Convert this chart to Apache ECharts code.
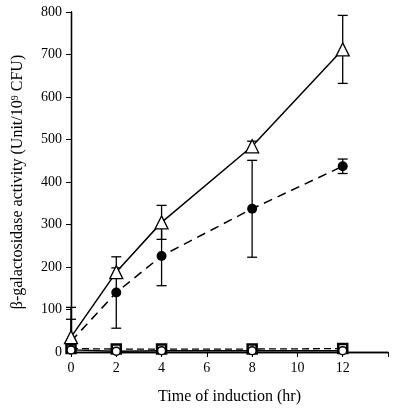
<!DOCTYPE html>
<html>
<head>
<meta charset="utf-8">
<script src="https://cdn.jsdelivr.net/npm/echarts@6/dist/echarts.min.js"></script>
<style>html,body{margin:0;padding:0;background:#fff}#c{width:400px;height:411px}</style>
</head>
<body>
<div id="c"></div>
<script>
var times = [0, 2, 4, 8, 12];
var xTickLabels = ['0', '2', '4', '6', '8', '10', '12'];
var yTickLabels = ['0', '100', '200', '300', '400', '500', '600', '700', '800'];
var triValues = [35, 188, 305, 484, 712];
var triErrors = [70, 10, 40, 12, 80];
var dotValues = [25, 140, 226, 337, 437];
var dotErrors = [52, 84, 70, 114, 17];
var squareValues = [8, 7, 7, 7, 8];
var circleValues = [5, 2, 3, 3, 3];

function pairs(vals) { return times.map(function (t, i) { return [t, vals[i]]; }); }
function errData(vals, errs) { return times.map(function (t, i) { return [t, vals[i] - errs[i], vals[i] + errs[i]]; }); }

function errRender(params, api) {
  var x = api.value(0);
  var lo = api.coord([x, Math.max(api.value(1), 0)]);
  var hi = api.coord([x, api.value(2)]);
  var w = 5;
  var st = { stroke: '#000', lineWidth: 1.3 };
  var children = [
    { type: 'line', shape: { x1: hi[0], y1: hi[1], x2: lo[0], y2: lo[1] }, style: st },
    { type: 'line', shape: { x1: hi[0] - w, y1: hi[1], x2: hi[0] + w, y2: hi[1] }, style: st }
  ];
  if (api.value(1) > 0) {
    children.push({ type: 'line', shape: { x1: lo[0] - w, y1: lo[1], x2: lo[0] + w, y2: lo[1] }, style: st });
  }
  return { type: 'group', children: children };
}

var font = 'Liberation Serif';
var chart = echarts.init(document.getElementById('c'));
chart.setOption({
  animation: false,
  backgroundColor: '#fff',
  grid: { left: 71, top: 12, right: 12, bottom: 59 },
  xAxis: [{
    type: 'value', min: 0, max: 14, interval: 2,
    name: 'Time of induction (hr)', nameLocation: 'middle', nameGap: 37,
    nameTextStyle: { fontFamily: font, fontSize: 16, color: '#000' },
    axisLine: { show: true, onZero: false, lineStyle: { color: '#000', width: 1.3 } },
    axisTick: { show: true, inside: false, length: 5, lineStyle: { color: '#000' } },
    axisLabel: {
      fontFamily: font, fontSize: 14, color: '#000', margin: 9,
      formatter: function (v) { return v <= 12 ? xTickLabels[v / 2] : ''; }
    },
    splitLine: { show: false }
  }, {
    type: 'value', min: 0, max: 14, position: 'top',
    axisLine: { show: true, lineStyle: { color: '#000', width: 1.3 } },
    axisTick: { show: false }, axisLabel: { show: false }, splitLine: { show: false }
  }],
  yAxis: [{
    type: 'value', min: 0, max: 800, interval: 100,
    name: '{a|β-galactosidase activity (Unit/10}{s|9}{a| CFU)}', nameLocation: 'middle', nameGap: 45, nameRotate: 90,
    nameTextStyle: {
      rich: {
        a: { fontFamily: font, fontSize: 16, color: '#000' },
        s: { fontFamily: font, fontSize: 10, color: '#000', verticalAlign: 'top', padding: [0, 0, 6, 0] }
      }
    },
    axisLine: { show: true, onZero: false, lineStyle: { color: '#000', width: 1.3 } },
    axisTick: { show: true, inside: false, length: 5, lineStyle: { color: '#000' } },
    axisLabel: {
      fontFamily: font, fontSize: 14, color: '#000', margin: 9,
      formatter: function (v) { return yTickLabels[v / 100]; }
    },
    splitLine: { show: false }
  }, {
    type: 'value', min: 0, max: 800, position: 'right',
    axisLine: { show: true, lineStyle: { color: '#000', width: 1.3 } },
    axisTick: { show: false }, axisLabel: { show: false }, splitLine: { show: false }
  }],
  series: [
    {
      type: 'line', data: pairs(squareValues), symbol: 'rect', symbolSize: 9,
      itemStyle: { color: '#fff', borderColor: '#000', borderWidth: 2.5 },
      lineStyle: { color: '#000', width: 1.3, type: [7, 4] }, z: 3
    },
    {
      type: 'line', data: pairs(circleValues), symbol: 'circle', symbolSize: 8,
      itemStyle: { color: '#fff', borderColor: '#000', borderWidth: 1.5 },
      lineStyle: { color: '#000', width: 1.5 }, z: 4
    },
    { type: 'custom', data: errData(dotValues, dotErrors), renderItem: errRender, z: 2 },
    { type: 'custom', data: errData(triValues, triErrors), renderItem: errRender, z: 2 },
    {
      type: 'line', data: pairs(dotValues), symbol: 'circle', symbolSize: 10,
      itemStyle: { color: '#000' },
      lineStyle: { color: '#000', width: 1.5, type: [9, 6] }, z: 5
    },
    {
      type: 'line', data: pairs(triValues), symbol: 'triangle', symbolSize: 13,
      itemStyle: { color: '#fff', borderColor: '#000', borderWidth: 1.3 },
      lineStyle: { color: '#000', width: 1.5 }, z: 6
    }
  ]
});
</script>
</body>
</html>
